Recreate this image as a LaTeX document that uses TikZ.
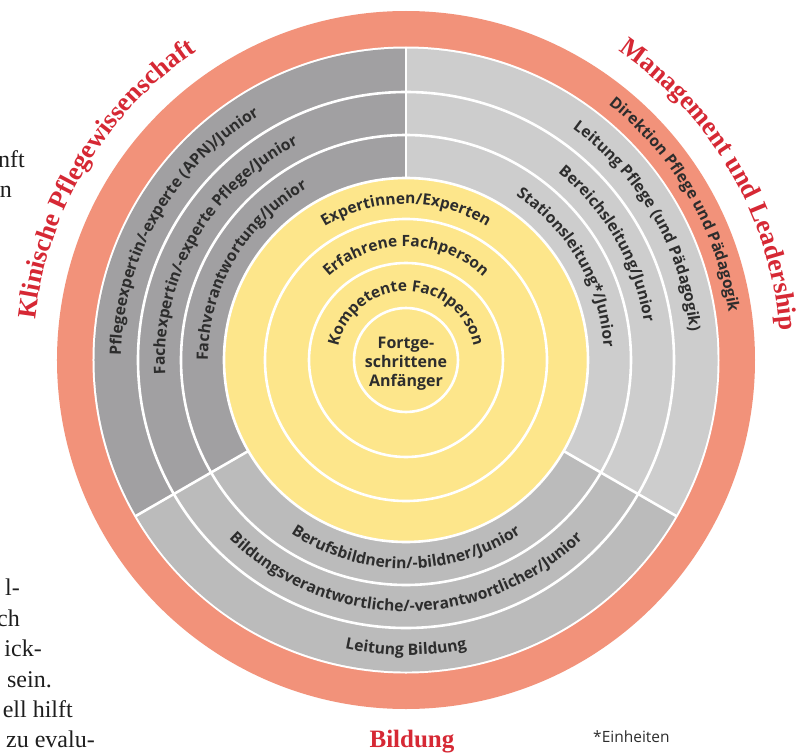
\documentclass[tikz,border=0pt]{standalone}
\usepackage{fontspec}
\setsansfont{Open Sans}
\newfontfamily\serifhead{Liberation Serif}
\usetikzlibrary{decorations.text}

\definecolor{salmon}{RGB}{242,146,122}
\definecolor{ringdark}{RGB}{161,160,162}
\definecolor{ringmid}{RGB}{187,187,187}
\definecolor{ringlight}{RGB}{205,205,205}
\definecolor{sun}{RGB}{253,230,139}
\definecolor{ink}{RGB}{45,45,45}
\definecolor{headred}{RGB}{214,40,52}
\definecolor{pagetext}{RGB}{30,30,30}

\newcommand\ringfont{\sffamily\bfseries\fontsize{15.7}{17}\selectfont}
\newcommand\corefont{\sffamily\bfseries\fontsize{15.5}{17}\selectfont}
\newcommand\redhead{\serifhead\bfseries\fontsize{26.5}{28}\selectfont}
\newcommand\pagefont{\serifhead\fontsize{24}{30}\selectfont}

\begin{document}
\begin{tikzpicture}[x=1pt,y=1pt,
  sep/.style={white, line width=2.6pt},
  arclabel/.style={decorate, decoration={text along path, text align=center,
      text color=ink, text={#1}}},
  headlabel/.style={decorate, decoration={text along path, text align=center,
      text color=headred, text={#1}}},
  fragment/.style={anchor=base east, inner sep=0pt, text=pagetext, font=\pagefont}]
\useasboundingbox (-406,-393) rectangle (395,360);
\fill[white] (-406,-393) rectangle (395,360);

% outer band
\fill[salmon] (0,0) circle[radius=349];
\fill[white] (0,0) circle[radius=313.5];

% three career paths
\fill[ringdark] (0,0) -- (90:311.5) arc[start angle=90, end angle=210, radius=311.5] -- cycle;
\fill[ringmid] (0,0) -- (210:311.5) arc[start angle=210, end angle=330, radius=311.5] -- cycle;
\fill[ringlight] (0,0) -- (330:311.5) arc[start angle=330, end angle=450, radius=311.5] -- cycle;
\draw[sep] (0,0) circle[radius=268];
\draw[sep] (0,0) circle[radius=225];
\foreach \a in {90,210,330} \draw[sep] (\a:180) -- (\a:313);

% core: stages of competence
\fill[sun, draw=white, line width=2.6pt] (0,0) circle[radius=182];
\foreach \r in {141,97,52} \draw[sep] (0,0) circle[radius=\r];

% clinical path
\path[arclabel={|\ringfont|Pflegeexpertin/-experte (APN)/Junior}]
  (215:285) arc[start angle=215, end angle=85, radius=285];
\path[arclabel={|\ringfont|Fachexpertin/-experte Pflege/Junior}]
  (215:241) arc[start angle=215, end angle=85, radius=241];
\path[arclabel={|\ringfont|Fachverantwortung/Junior}]
  (215:198) arc[start angle=215, end angle=85, radius=198];

% management path
\path[arclabel={|\ringfont|Direktion Pflege und Pädagogik}]
  (95:326) arc[start angle=95, end angle=-35, radius=326];
\path[arclabel={|\ringfont|Leitung Pflege (und Pädagogik)}]
  (95:285) arc[start angle=95, end angle=-35, radius=285];
\path[arclabel={|\ringfont|Bereichsleitung/Junior}]
  (95:241) arc[start angle=95, end angle=-35, radius=241];
\path[arclabel={|\ringfont|Stationsleitung*/Junior}]
  (95:198) arc[start angle=95, end angle=-35, radius=198];

% education path
\path[arclabel={|\ringfont|Berufsbildnerin/-bildner/Junior}]
  (200:208.5) arc[start angle=200, end angle=340, radius=208.5];
\path[arclabel={|\ringfont|Bildungsverantwortliche/-verantwortlicher/Junior}]
  (200:251.5) arc[start angle=200, end angle=340, radius=251.5];
\path[arclabel={|\ringfont|Leitung Bildung}]
  (210:295) arc[start angle=210, end angle=330, radius=295];

% competence stages
\path[arclabel={|\corefont|Expertinnen/Experten}]
  (165:156) arc[start angle=165, end angle=15, radius=156];
\path[arclabel={|\corefont|Erfahrene Fachperson}]
  (178:113.5) arc[start angle=178, end angle=2, radius=113.5];
\path[arclabel={|\corefont|Kompetente Fachperson}]
  (185:69) arc[start angle=185, end angle=-5, radius=69];
\node (novice) [align=center, text=ink, inner sep=0pt,
  font=\sffamily\bfseries\fontsize{16}{19}\selectfont]
  at (0,-4) {Fortge-\\schrittene\\Anfänger};

% path headings
\path[headlabel={|\redhead|Klinische Pflegewissenschaft}]
  (214:373) arc[start angle=214, end angle=84, radius=373];
\path[headlabel={|\redhead|Management und Leadership}]
  (95:375) arc[start angle=95, end angle=-35, radius=375];
\node (bildung) [anchor=base, inner sep=0pt, text=headred,
  font=\serifhead\bfseries\fontsize{25}{28}\selectfont]
  at (6,-387) {Bildung};

\node (note) [anchor=base west, inner sep=0pt, text=ink,
  font=\sffamily\fontsize{15.5}{17}\selectfont] at (187,-382) {*Einheiten};

% running text of the page beside the figure
\node (f1) [fragment] at (-381,193) {nft};
\node (f2) [fragment] at (-394,163) {n};
\node (f4) [fragment] at (-386,-235) {l-};
\node (f5) [fragment] at (-386,-266) {ch};
\node (f6) [fragment] at (-364,-296) {ick-};
\node (f7) [fragment] at (-354,-327) {sein.};
\node (f8) [fragment] at (-333,-357) {ell hilft};
\node (f9) [fragment] at (-311,-387) {zu evalu-};
\end{tikzpicture}
\end{document}
